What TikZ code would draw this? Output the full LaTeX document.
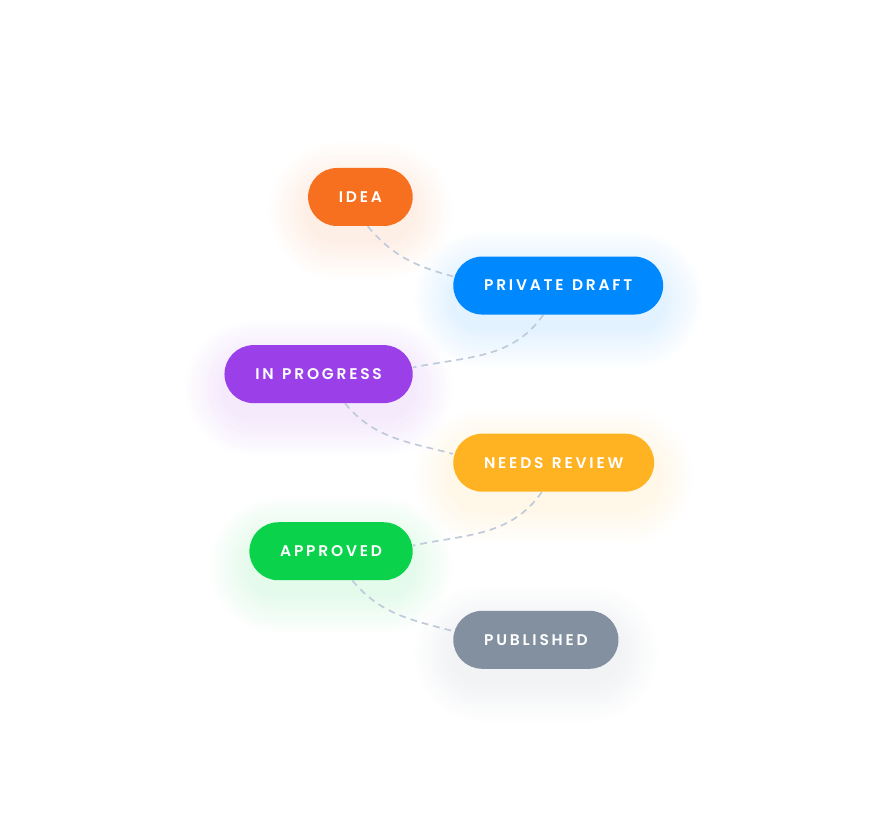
\documentclass[tikz,border=0pt]{standalone}
\usepackage{fontspec}
\setmainfont{Poppins}
\newfontfamily\pillfont[LetterSpace=18, WordSpace=1.3]{Poppins SemiBold}
\usepackage{tikz}
\usetikzlibrary{positioning,backgrounds}

\definecolor{ideaorange}{HTML}{F7701F}
\definecolor{draftblue}{HTML}{0088FF}
\definecolor{progpurple}{HTML}{9B3FE8}
\definecolor{reviewyellow}{HTML}{FFB323}
\definecolor{okgreen}{HTML}{0AD34B}
\definecolor{pubgray}{HTML}{8390A0}
\definecolor{linkgray}{HTML}{BFCBDA}

\begin{document}
\begin{tikzpicture}[
  font=\pillfont\fontsize{11}{13}\selectfont,
  node distance=0.75cm and 1cm,
  pill/.style={rounded corners=0.725cm, minimum height=1.45cm, inner xsep=0.77cm, inner ysep=0pt, text=white},
  link/.style={linkgray, line width=1.2pt, dash pattern=on 4.8pt off 3.6pt}
]
\useasboundingbox (0,0) rectangle (22.1,-20.825);
\node[pill, fill=ideaorange, anchor=east] (idea) at (10.325,-4.925) {IDEA};
\node[pill, fill=draftblue, below right=of idea] (draft) {PRIVATE DRAFT};
\node[pill, fill=progpurple, below left=of draft] (prog) {IN PROGRESS};
\node[pill, fill=reviewyellow, below right=of prog] (review) {NEEDS REVIEW};
\node[pill, fill=okgreen, below left=of review] (approved) {APPROVED};
\node[pill, fill=pubgray, below right=of approved] (published) {PUBLISHED};
% soft glow under each pill
\begin{scope}[on background layer]
\foreach \n/\c in {idea/ideaorange, draft/draftblue, prog/progpurple, review/reviewyellow, approved/okgreen, published/pubgray}
  \foreach \r in {1,...,14}
    \fill[\c, opacity=0.008, rounded corners=0.725cm+\r*0.07cm]
      ([xshift=-\r*0.07cm, yshift=-\r*0.07cm-0.35cm]\n.south west) rectangle ([xshift=\r*0.07cm, yshift=\r*0.07cm-0.35cm]\n.north east);
\draw[link] (idea.-76) to[out=-50, in=165] (draft.175);
\draw[link] (draft.-117) to[out=-125, in=12] (prog.4);
\draw[link] (prog.-48) to[out=-50, in=165] (review.175);
\draw[link] (review.-112) to[out=-125, in=12] (approved.4);
\draw[link] (approved.-54) to[out=-50, in=165] (published.174);
\end{scope}
\end{tikzpicture}
\end{document}
